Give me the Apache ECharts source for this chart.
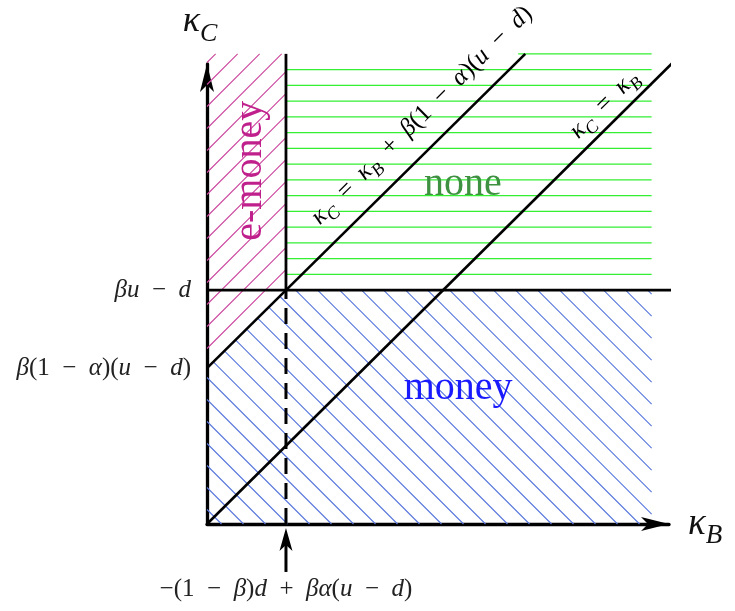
<!DOCTYPE html>
<html>
<head>
<meta charset="utf-8">
<script src="https://cdn.jsdelivr.net/npm/echarts@6/dist/echarts.min.js"></script>
<style>
  html, body { margin: 0; padding: 0; background: #fff; }
  #chart { width: 735px; height: 611px; }
</style>
</head>
<body>
<div id="chart"></div>
<script>
// key levels, in kappa units
var kinkX = 1;          // -(1-β)d + βα(u-d)
var interceptY = 2;     // β(1-α)(u-d)
var thresholdY = 3;     // βu - d
var topY = 6.03;        // top of the shaded regions
var rightX = 5.63;      // right edge of the shaded regions
var xMax = 5.85, yMax = 5.9;

var diagLine = [[0, 0], [6.01, 6.03]];                 // κC = κB
var shiftedLine = [[0, interceptY], [4.03, topY]];      // κC = κB + β(1-α)(u-d)
var thresholdLine = [[0, thresholdY], [6.01, thresholdY]];
var kinkSolid = [[kinkX, thresholdY], [kinkX, topY]];
var kinkDashed = [[kinkX, 0], [kinkX, thresholdY]];
var kinkArrow = [[kinkX, -0.615], [kinkX, -0.05]];

var yTickValues = [interceptY, thresholdY];
var yTickLabels = ['β(1  −  α)(u  −  d)', 'βu  −  d'];
var xTickValues = [kinkX];
var xTickLabels = ['−(1  −  β)d  +  βα(u  −  d)'];

var pinkPoly = [[0, interceptY], [0, topY], [kinkX, topY], [kinkX, thresholdY]];
var bluePoly = [[0, 0], [0, interceptY], [kinkX, thresholdY], [rightX, thresholdY], [rightX, 0]];
var greenCount = 15, greenTopStart = 3.94;

var regionNames = ['e-money', 'none', 'money'];
var regionLabelAt = [[0.55, 4.53], [3.24, 4.35], [3.18, 1.74]];
var regionColors = ['#c0208c', '#3d9140', '#1a1aff'];
var hatchColors = ['#cc4aa0', '#33f033', '#5a78dc'];

var lineLabels = ['κ_C  =  κ_B  +  β(1  −  α)(u  −  d)', 'κ_C  =  κ_B'];
var lineLabelAt = [[2.72, 5.24], [5.03, 5.38]];

var SERIF = "'Liberation Serif', 'DejaVu Serif', serif";

// letters italic, the rest upright, _X is a subscript
function tex(str) {
  var out = '', run = '', cls = null;
  function flush() { if (run) out += '{' + cls + '|' + run + '}'; run = ''; }
  for (var i = 0; i < str.length; i++) {
    var ch = str[i], c;
    if (ch === '_') { c = 's'; ch = str[++i]; }
    else if (/[A-Za-z\u03b1-\u03c9]/.test(ch)) c = 'i';
    else c = 'r';
    if (c !== cls) { flush(); cls = c; }
    run += ch;
  }
  flush();
  return out;
}
function richFor(size, color) {
  return {
    i: {fontFamily: SERIF, fontStyle: 'italic', fontSize: size, color: color, lineHeight: size * 1.4},
    r: {fontFamily: SERIF, fontSize: size, color: color, lineHeight: size * 1.4},
    s: {fontFamily: SERIF, fontStyle: 'italic', fontSize: Math.round(size * 0.72), color: color,
        lineHeight: size * 0.86, verticalAlign: 'bottom'}
  };
}

// parallel strokes a*x + b*y = c (pixels) clipped to a convex polygon, as one path
function hatchPath(poly, a, b, c0, step) {
  var n = poly.length, d = '';
  var vals = poly.map(function (p) { return a * p[0] + b * p[1]; });
  var lo = Math.min.apply(null, vals), hi = Math.max.apply(null, vals);
  for (var k = Math.ceil((lo - c0) / step); c0 + k * step <= hi; k++) {
    var c = c0 + k * step, hits = [];
    for (var i = 0; i < n; i++) {
      var p = poly[i], q = poly[(i + 1) % n];
      var vp = vals[i] - c, vq = vals[(i + 1) % n] - c;
      if ((vp <= 0 && vq > 0) || (vp > 0 && vq <= 0)) {
        var t = vp / (vp - vq);
        hits.push([p[0] + t * (q[0] - p[0]), p[1] + t * (q[1] - p[1])]);
      }
    }
    if (hits.length >= 2) {
      d += 'M' + hits[0][0].toFixed(2) + ' ' + hits[0][1].toFixed(2) +
           'L' + hits[1][0].toFixed(2) + ' ' + hits[1][1].toFixed(2);
    }
  }
  return d;
}

function renderRegions(params, api) {
  var kids = [];
  var o = api.coord([0, 0]);
  function px(list) { return list.map(function (p) { return api.coord(p); }); }
  var pinkD = hatchPath(px(pinkPoly), 1, 1, Math.round(o[0] + o[1]) - 175.5, 22);
  var blueD = hatchPath(px(bluePoly), 1, -1, Math.round(o[0] - o[1]) + 14.5, 22);
  var greenD = '';
  var gstep = (topY - thresholdY) / greenCount;
  for (var k = 1; k <= greenCount; k++) {
    var y = thresholdY + k * gstep;
    var a = api.coord([k === greenCount ? greenTopStart : kinkX, y]);
    var b = api.coord([rightX, y]);
    greenD += 'M' + a[0].toFixed(2) + ' ' + a[1].toFixed(2) + 'L' + b[0].toFixed(2) + ' ' + b[1].toFixed(2);
  }
  [[pinkD, hatchColors[0]], [greenD, hatchColors[1]], [blueD, hatchColors[2]]].forEach(function (h) {
    kids.push({type: 'path', shape: {pathData: h[0]}, style: {fill: null, stroke: h[1], lineWidth: 1.1}});
  });
  // region names
  regionNames.forEach(function (name, i) {
    var p = api.coord(regionLabelAt[i]);
    kids.push({type: 'text', x: p[0], y: p[1], rotation: i === 0 ? Math.PI / 2 : 0,
      style: {text: name, fill: regionColors[i], font: '40px ' + SERIF, align: 'center', verticalAlign: 'middle'}});
  });
  // labels along the two diagonals
  [shiftedLine, diagLine].forEach(function (ln, i) {
    var p1 = api.coord(ln[0]), p2 = api.coord(ln[1]);
    var ang = -Math.atan2(p2[1] - p1[1], p2[0] - p1[0]);
    var p = api.coord(lineLabelAt[i]);
    kids.push({type: 'text', x: p[0], y: p[1], rotation: ang,
      style: {text: tex(lineLabels[i]), rich: richFor(25, '#111'), align: 'center', verticalAlign: 'middle'}});
  });
  // arrow pointing at the kink from below the axis
  var s0 = api.coord(kinkArrow[0]), tip = api.coord(kinkArrow[1]);
  kids.push({type: 'line', shape: {x1: s0[0], y1: s0[1], x2: tip[0], y2: tip[1] + 14},
    style: {stroke: '#000', lineWidth: 3}});
  kids.push({type: 'polygon', shape: {points: [[tip[0], tip[1]], [tip[0] - 6.5, tip[1] + 23],
      [tip[0], tip[1] + 17], [tip[0] + 6.5, tip[1] + 23]]}, style: {fill: '#000', stroke: null}});
  return {type: 'group', children: kids};
}

function blackLine(data, width, type) {
  return {type: 'line', data: data, symbol: 'none', clip: false, silent: true, z: 3,
    lineStyle: {color: '#000', width: width, type: type || 'solid'}};
}

var chartDom = document.getElementById('chart');
var myChart = echarts.init(chartDom);
var option = {
  animation: false,
  grid: {left: 207, right: 66, top: 64, bottom: 87, containLabel: false, outerBoundsMode: 'none'},
  xAxis: {
    type: 'value', min: 0, max: xMax, interval: 1,
    axisLine: {onZero: false, symbol: ['none', 'arrow'], symbolSize: [10.5, 28],
      lineStyle: {color: '#000', width: 3.3}},
    axisTick: {show: false}, splitLine: {show: false},
    axisLabel: {margin: 48, rich: richFor(25, '#222'), formatter: function (v) {
      var i = xTickValues.indexOf(v); return i < 0 ? '' : tex(xTickLabels[i]);
    }},
    name: tex('κ_B'), nameLocation: 'end', nameGap: 19, nameTextStyle: {rich: richFor(37, '#111')}
  },
  yAxis: {
    type: 'value', min: 0, max: yMax, interval: 1,
    axisLine: {onZero: false, symbol: ['none', 'arrow'], symbolSize: [10.5, 28],
      lineStyle: {color: '#000', width: 3.3}},
    axisTick: {show: false}, splitLine: {show: false},
    axisLabel: {margin: 16, rich: richFor(25, '#222'), formatter: function (v) {
      var i = yTickValues.indexOf(v); return i < 0 ? '' : tex(yTickLabels[i]);
    }},
    name: tex('κ_C'), nameLocation: 'end', nameGap: 17,
    nameTextStyle: {rich: richFor(36, '#111'), padding: [0, 14, 0, 0]}
  },
  series: [
    {type: 'custom', renderItem: renderRegions, data: [[0, 0]], silent: true, z: 1, clip: false},
    blackLine(diagLine, 2.6),
    blackLine(shiftedLine, 2.6),
    blackLine(thresholdLine, 2.6),
    blackLine(kinkSolid, 2.8),
    blackLine(kinkDashed, 3, [16, 9])
  ]
};
option && myChart.setOption(option);
</script>
</body>
</html>
